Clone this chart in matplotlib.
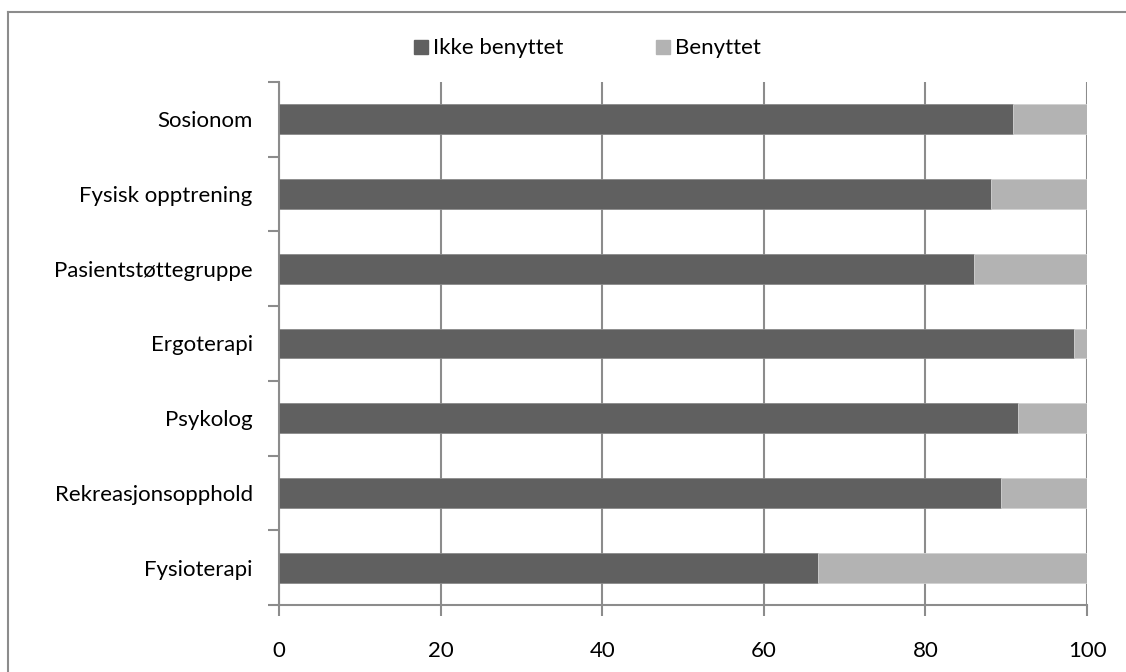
import numpy as np
import matplotlib.pyplot as plt
from matplotlib.lines import Line2D

categories = ['Fysioterapi', 'Rekreasjonsopphold', 'Psykolog', 'Ergoterapi',
              'Pasientstøttegruppe', 'Fysisk opptrening', 'Sosionom']
ikke_benyttet = [66.7, 89.4, 91.5, 98.4, 86.0, 88.1, 90.8]
benyttet = [33.3, 10.6, 8.5, 1.6, 14.0, 11.9, 9.2]
xticks = [0, 20, 40, 60, 80, 100]

dark = '#606060'
light = '#b3b3b3'
axis_grey = '#8c8c8c'

plt.rcParams['font.family'] = ['Lato', 'DejaVu Sans']
fs = 16

fig = plt.figure(figsize=(11.26, 6.72), dpi=100)
ax = fig.add_axes([0.2478, 0.0997, 0.9654 - 0.2478, 0.878 - 0.0997])

y = np.arange(len(categories))
ax.barh(y, ikke_benyttet, height=0.4, color=dark, edgecolor='#8a8a8a',
        linewidth=0.6, label='Ikke benyttet', zorder=3)
ax.barh(y, benyttet, left=ikke_benyttet, height=0.4, color=light,
        edgecolor='#d0d0d0', linewidth=0.6, label='Benyttet', zorder=3)

ax.set_xlim(0, 100)
ax.set_ylim(-0.5, len(categories) - 0.5)
ax.set_xticks(xticks)
ax.set_xticklabels([str(t) for t in xticks], fontsize=fs)

# category ticks sit between bars, labels at the bar centres
ax.set_yticks(np.arange(len(categories) + 1) - 0.5)
ax.set_yticklabels([])
ax.set_yticks(y, minor=True)
ax.set_yticklabels(categories, minor=True, fontsize=fs)
ax.tick_params(axis='y', which='minor', length=0, pad=19)
ax.tick_params(axis='y', which='major', length=8, width=1.5, color=axis_grey)
ax.tick_params(axis='x', length=8, width=1.5, color=axis_grey, pad=18)

ax.grid(axis='x', color=axis_grey, linewidth=1.5, zorder=0)
for side in ['top', 'right']:
    ax.spines[side].set_visible(False)
for side in ['left', 'bottom']:
    ax.spines[side].set_color(axis_grey)
    ax.spines[side].set_linewidth(1.5)

handles = [Line2D([], [], marker='s', linestyle='none', markersize=10,
                  color=c) for c in (dark, light)]
fig.legend(handles, ['Ikke benyttet', 'Benyttet'], ncol=2, frameon=False,
           loc='center', bbox_to_anchor=(0.5204, 0.928), fontsize=fs,
           handletextpad=0.1, columnspacing=4.0, handlelength=0.9)

# outer chart border
fig.add_artist(Line2D([8 / 1126, 8 / 1126], [0, 1 - 12 / 672],
                      transform=fig.transFigure, color=axis_grey, linewidth=1.5))
fig.add_artist(Line2D([8 / 1126, 1], [1 - 12 / 672, 1 - 12 / 672],
                      transform=fig.transFigure, color=axis_grey, linewidth=1.5))

fig.savefig('out.png', dpi=100, facecolor='white')
